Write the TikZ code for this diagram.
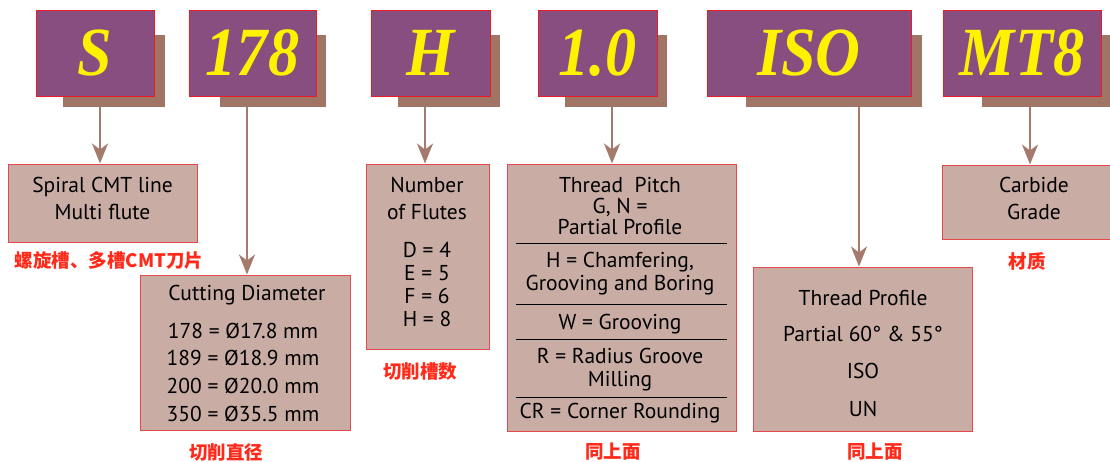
\documentclass[tikz,border=0pt]{standalone}
\usepackage{fontspec}
\setmainfont{PT Sans}
\newfontfamily\cjkfont{Noto Sans CJK SC}
\newfontfamily\codefont{Liberation Serif}[FakeStretch=0.9]
\usetikzlibrary{arrows.meta,calc}
\definecolor{purp}{HTML}{884E80}
\definecolor{shad}{HTML}{A07565}
\definecolor{codey}{HTML}{FFF200}
\definecolor{redb}{HTML}{ED1C24}
\definecolor{boxf}{HTML}{C9ADA5}
\definecolor{boxb}{HTML}{E5484D}
\definecolor{arrc}{HTML}{A47A6C}
\definecolor{labc}{HTML}{FF2A1A}
\begin{document}
\begin{tikzpicture}[x=1pt,y=-1pt,
 codebox/.style={draw=redb, fill=purp, line width=1pt, inner sep=0pt,
   text=codey, font=\codefont\bfseries\itshape\fontsize{69}{69}\selectfont},
 shadowbox/.style={fill=shad, inner sep=0pt},
 infobox/.style={draw=boxb, fill=boxf, line width=1pt, inner sep=0pt},
 txt/.style={font=\fontsize{21.5}{21.5}\selectfont, inner sep=0pt, anchor=base},
 lab/.style={text=labc, font=\cjkfont\bfseries\fontsize{18.5}{18.5}\selectfont, inner sep=0pt},
 conn/.style={draw=arrc, line width=2.2pt, -{Stealth[length=20pt,width=16pt,inset=6pt]}},
 sepline/.style={draw=black, line width=0.6pt}]
\clip (0,0) rectangle (1110,461);
\fill[white] (0,0) rectangle (1110,461);
% shadows
\node[shadowbox, minimum width=102pt, minimum height=72pt] (shS) at (114,71) {};
\node[shadowbox, minimum width=106pt, minimum height=72pt] (shD) at (273,71) {};
\node[shadowbox, minimum width=102pt, minimum height=72pt] (shH) at (449,71) {};
\node[shadowbox, minimum width=102pt, minimum height=72pt] (shP) at (616,71) {};
\node[shadowbox, minimum width=176pt, minimum height=72pt] (shI) at (834,71) {};
\node[shadowbox, minimum width=128pt, minimum height=72pt] (shM) at (1046,71) {};
% code boxes
\node[codebox, minimum width=118pt, minimum height=86pt] (cS) at (95,53) {S};
\node[codebox, minimum width=127pt, minimum height=86pt] (cD) at (252.5,53) {178};
\node[codebox, minimum width=119pt, minimum height=86pt] (cH) at (430.5,53) {H};
\node[codebox, minimum width=119pt, minimum height=86pt] (cP) at (597.5,53) {1.0};
\node[codebox, minimum width=204pt, minimum height=86pt] (cI) at (809,53) {ISO};
\node[codebox, minimum width=158pt, minimum height=86pt] (cM) at (1022,53) {MT8};
% info boxes
\node[infobox, minimum width=189pt, minimum height=78pt] (bS) at (102.5,203) {};
\node[infobox, minimum width=210pt, minimum height=155pt] (bD) at (245,352.5) {};
\node[infobox, minimum width=123pt, minimum height=185pt] (bH) at (427.5,256.5) {};
\node[infobox, minimum width=229pt, minimum height=267pt] (bP) at (621.5,297.5) {};
\node[infobox, minimum width=219pt, minimum height=164pt] (bI) at (862.5,349) {};
\node[infobox, minimum width=184pt, minimum height=74pt] (bM) at (1034,202) {};
% connectors
\coordinate (xS) at (100,0);
\coordinate (xD) at (247,0);
\coordinate (xH) at (425,0);
\coordinate (xP) at (612,0);
\coordinate (xI) at (859,0);
\coordinate (xM) at (1030,0);
\draw[conn] (xS |- shS.south) -- (xS |- bS.north);
\draw[conn] (xD |- shD.south) -- (xD |- bD.north);
\draw[conn] (xH |- shH.south) -- (xH |- bH.north);
\draw[conn] (xP |- shP.south) -- (xP |- bP.north);
\draw[conn] (xI |- shI.south) -- (xI |- bI.north);
\draw[conn] (xM |- shM.south) -- (xM |- bM.north);
% texts: Spiral
\node[txt] (tS1) at (102.5,192) {Spiral CMT line};
\node[txt] (tS2) at (102.5,219) {Multi flute};
% Cutting diameter
\node[txt] (tD0) at (247,300) {Cutting Diameter};
\node[txt] (tD1) at (243,338) {178 = Ø17.8 mm};
\node[txt] (tD2) at (243,365) {189 = Ø18.9 mm};
\node[txt] (tD3) at (243,393) {200 = Ø20.0 mm};
\node[txt] (tD4) at (243,421) {350 = Ø35.5 mm};
% Flutes
\node[txt] (tH1) at (427,192) {Number};
\node[txt] (tH2) at (427,219) {of Flutes};
\node[txt] (tH3) at (427,257) {D = 4};
\node[txt] (tH4) at (427,280) {E = 5};
\node[txt] (tH5) at (427,303) {F = 6};
\node[txt] (tH6) at (427,326) {H = 8};
% Pitch
\node[txt] (tP1) at (620,192) {Thread\ \ Pitch};
\node[txt] (tP2) at (620,213) {G, N =};
\node[txt] (tP3) at (620,234) {Partial Profile};
\node[txt] (tP4) at (620,267) {H = Chamfering,};
\node[txt] (tP5) at (620,290) {Grooving and Boring};
\node[txt] (tP6) at (620,329) {W = Grooving};
\node[txt] (tP7) at (620,363) {R = Radius Groove};
\node[txt] (tP8) at (620,386) {Milling};
\node[txt] (tP9) at (620,418) {CR = Corner Rounding};
\draw[sepline] (516,243) -- (727,243);
\draw[sepline] (516,304) -- (727,304);
\draw[sepline] (516,339) -- (727,339);
\draw[sepline] (516,397) -- (727,397);
% Profile
\node[txt] (tI1) at (863,305) {Thread Profile};
\node[txt] (tI2) at (863,341) {Partial 60° \& 55°};
\node[txt] (tI3) at (863,378) {ISO};
\node[txt] (tI4) at (863,416) {UN};
% Carbide
\node[txt] (tM1) at (1034,192) {Carbide};
\node[txt] (tM2) at (1034,219) {Grade};
% Chinese labels
\node[lab] (lS) at (109,261) {螺旋槽、多槽CMT刀片};
\node[lab] (lD) at (226,452) {切削直径};
\node[lab] (lH) at (420,372) {切削槽数};
\node[lab] (lP) at (613,452) {同上面};
\node[lab] (lI) at (875,452) {同上面};
\node[lab] (lM) at (1027,261) {材质};
\end{tikzpicture}
\end{document}
